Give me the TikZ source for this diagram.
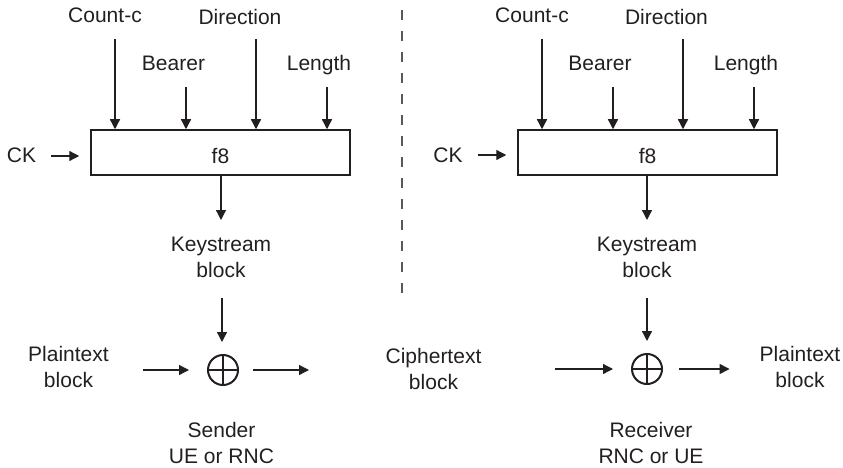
\documentclass[tikz,border=0pt]{standalone}
\usepackage{fontspec}
\setmainfont{Liberation Sans}
\usetikzlibrary{arrows.meta}
\definecolor{ink}{HTML}{231F20}
\begin{document}
\begin{tikzpicture}[x=1pt,y=-1pt,
  lbl/.style={font=\fontsize{21}{25.5}\selectfont, inner sep=0pt, align=center, text=ink, anchor=base},
  arr/.style={draw=ink, line width=1.3pt, -{Triangle[length=10pt,width=10pt]}},
  fbox/.style={draw=ink, line width=1.5pt, minimum width=259pt, minimum height=45pt, inner sep=0pt,
    font=\fontsize{21}{25.5}\selectfont, text=ink, text height=21pt, text depth=0pt},
  xorop/.style={circle, draw=ink, line width=2pt, minimum size=30pt, inner sep=0pt,
    path picture={\draw[ink, line width=2pt]
      (path picture bounding box.north) -- (path picture bounding box.south)
      (path picture bounding box.west) -- (path picture bounding box.east);}},
  dashline/.style={draw=black!65, line width=1.8pt, dash pattern=on 10pt off 11pt}]
\useasboundingbox (0,0) rectangle (843,468);

% ---------- Sender (left) ----------
\node[fbox] (f8L) at (220.5,152.5) {f8};
\node[lbl] (ccL) at (105,23) {Count-c};
\node[lbl] (brL) at (173.5,71) {Bearer};
\node[lbl] (drL) at (240,25) {Direction};
\node[lbl] (lnL) at (319,71) {Length};
\node[lbl] (ckL) at (21.5,162) {CK};
\node[lbl] (ksL) at (221,277) {Keystream\\block};
\node[lbl] (ptL) at (68.5,387) {Plaintext\\block};
\node[lbl] (sdL) at (221.5,463) {Sender\\UE or RNC};
\node[xorop] (xL) at (223,370) {};

\coordinate (a1L) at (115,39);
\coordinate (a2L) at (186,87);
\coordinate (a3L) at (256,39);
\coordinate (a4L) at (327,87);
\draw[arr] (a1L) -- (a1L |- f8L.north);
\draw[arr] (a2L) -- (a2L |- f8L.north);
\draw[arr] (a3L) -- (a3L |- f8L.north);
\draw[arr] (a4L) -- (a4L |- f8L.north);
\draw[arr, shorten <=15pt, shorten >=11pt] (ckL.east |- 0,156) -- (f8L.west |- 0,156);
\coordinate (k1L) at (221,220);
\draw[arr] (k1L |- f8L.south) -- (k1L);
\coordinate (k2L) at (222,298);
\draw[arr, shorten >=12pt] (k2L) -- (k2L |- xL.north);
\draw[arr, shorten <=34pt, shorten >=18pt] (ptL.east |- xL.west) -- (xL.west);
\coordinate (oL) at (309,370);
\draw[arr, shorten <=14pt] (xL.east) -- (oL);

% ---------- dashed divider ----------
\coordinate (d1) at (402,10);
\coordinate (d2) at (402,297);
\draw[dashline] (d1) -- (d2);

% ---------- Ciphertext ----------
\node[lbl] (ct) at (433.5,389) {Ciphertext\\block};

% ---------- Receiver (right) ----------
\node[fbox] (f8R) at (647.5,152.5) {f8};
\node[lbl] (ccR) at (532,23) {Count-c};
\node[lbl] (brR) at (600,71) {Bearer};
\node[lbl] (drR) at (666.5,25) {Direction};
\node[lbl] (lnR) at (746,71) {Length};
\node[lbl] (ckR) at (448,162) {CK};
\node[lbl] (ksR) at (647,277) {Keystream\\block};
\node[lbl] (ptR) at (800,387) {Plaintext\\block};
\node[lbl] (rcR) at (651,463) {Receiver\\RNC or UE};
\node[xorop] (xR) at (647,369) {};

\coordinate (a1R) at (542,39);
\coordinate (a2R) at (613,87);
\coordinate (a3R) at (683,39);
\coordinate (a4R) at (754,87);
\draw[arr] (a1R) -- (a1R |- f8R.north);
\draw[arr] (a2R) -- (a2R |- f8R.north);
\draw[arr] (a3R) -- (a3R |- f8R.north);
\draw[arr] (a4R) -- (a4R |- f8R.north);
\draw[arr, shorten <=15pt, shorten >=11pt] (ckR.east |- 0,155) -- (f8R.west |- 0,155);
\coordinate (k1R) at (647,220);
\draw[arr] (k1R |- f8R.south) -- (k1R);
\coordinate (k2R) at (647,298);
\draw[arr, shorten >=12pt] (k2R) -- (k2R |- xR.north);
\coordinate (iR) at (555,369);
\draw[arr, shorten >=18pt] (iR) -- (xR.west);
\draw[arr, shorten <=16pt, shorten >=30pt] (xR.east) -- (xR.east -| ptR.west);
\end{tikzpicture}
\end{document}
